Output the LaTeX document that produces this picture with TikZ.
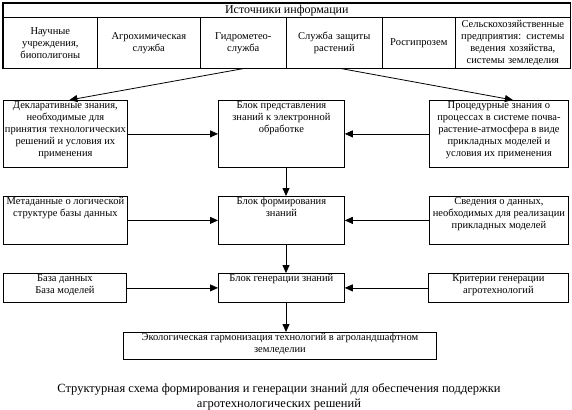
\documentclass[tikz,border=0pt]{standalone}
\usepackage{fontspec}
\setmainfont{Liberation Serif}
\usetikzlibrary{calc,positioning,arrows.meta}

\newcommand{\blocktext}[3]{\parbox[c][#2][t]{#1}{\centering\strut #3}}

\begin{document}
\begin{tikzpicture}[x=1pt,y=-1pt,
  every node/.style={font=\fontsize{10.5}{12}\selectfont},
  block/.style={draw, line width=0.8pt, inner sep=0pt, anchor=north west},
  srccell/.style={draw, line width=0.6pt, inner sep=1pt, anchor=north west,
    minimum height=51pt, align=center},
  arr/.style={line width=0.8pt, -{Triangle[length=8pt,width=7pt]}}]
  \useasboundingbox (0,0) rectangle (572,409);

  % sources of information
  \node[draw, line width=0.6pt, anchor=north west, inner sep=0pt,
    minimum width=567pt, minimum height=14pt,
    font=\fontsize{12}{13}\selectfont] (src) at (3,3) {Источники информации};
  \node[srccell, text width=92pt] (s1) at (3,17) {Научные\\учреждения,\\биополигоны};
  \node[srccell, text width=101pt] (s2) at (97,17) {Агрохимическая\\служба};
  \node[srccell, text width=84pt] (s3) at (200,17) {Гидрометео-\\служба};
  \node[srccell, text width=94pt] (s4) at (286,17) {Служба защиты\\растений};
  \node[srccell, text width=71pt] (s5) at (382,17) {Росгипрозем};
  \node[srccell, text width=113pt] (s6) at (455,17) {Сельскохозяйственные\\предприятия: системы\\ведения хозяйства,\\системы земледелия};
  \draw[line width=1.6pt] (src.north west) rectangle (s6.south east);

  % blocks
  \node[block] (decl) at (3,100) {\blocktext{124pt}{67pt}{Декларативные знания,\\необходимые для\\принятия технологических\\решений и условия их\\применения}};
  \node[block] (rep) at (218,100) {\blocktext{126pt}{67pt}{Блок представления\\знаний к электронной\\обработке}};
  \node[block] (proc) at (429,100) {\blocktext{139pt}{67pt}{Процедурные знания о\\процессах в системе почва-\\растение-атмосфера в виде\\прикладных моделей и\\условия их применения}};

  \node[block] (meta) at (3,196) {\blocktext{124pt}{48pt}{Метаданные о логической\\структуре базы данных}};
  \node[block] (form) at (218,196) {\blocktext{126pt}{48pt}{Блок формирования\\знаний}};
  \node[block] (info) at (429,196) {\blocktext{139pt}{48pt}{Сведения о данных,\\необходимых для реализации\\прикладных моделей}};

  \node[block] (base) at (3,273) {\blocktext{123pt}{29pt}{База данных\\База моделей}};
  \node[block] (gen) at (218,273) {\blocktext{126pt}{29pt}{Блок генерации знаний}};
  \node[block] (crit) at (428,273) {\blocktext{140pt}{29pt}{Критерии генерации\\агротехнологий}};

  \node[block] (eco) at (123,332) {\blocktext{313pt}{27pt}{Экологическая гармонизация технологий в агроландшафтном\\земледелии}};

  \node[align=center, font=\fontsize{12.5}{15}\selectfont] (cap) at (279,397)
    {Структурная схема формирования и генерации знаний для обеспечения поддержки\\агротехнологических решений};

  % connectors
  \coordinate (axis) at (286,0);
  \draw[arr] (s3.south) -- ($(decl.north)+(4,0)$);
  \draw[arr] ($(s4.south)+(7,0)$) -- ($(proc.north)+(14,0)$);
  \draw[arr] (decl) -- (rep);
  \draw[arr] (proc) -- (rep);
  \draw[arr] (rep.south -| axis) -- (form.north -| axis);
  \draw[arr] (meta) -- (form);
  \draw[arr] (info) -- (form);
  \draw[arr] (form.south -| axis) -- (gen.north -| axis);
  \draw[arr] (base) -- (gen);
  \draw[arr] (crit) -- (gen);
  \draw[arr] (gen.south -| axis) -- (eco.north -| axis);
\end{tikzpicture}
\end{document}
